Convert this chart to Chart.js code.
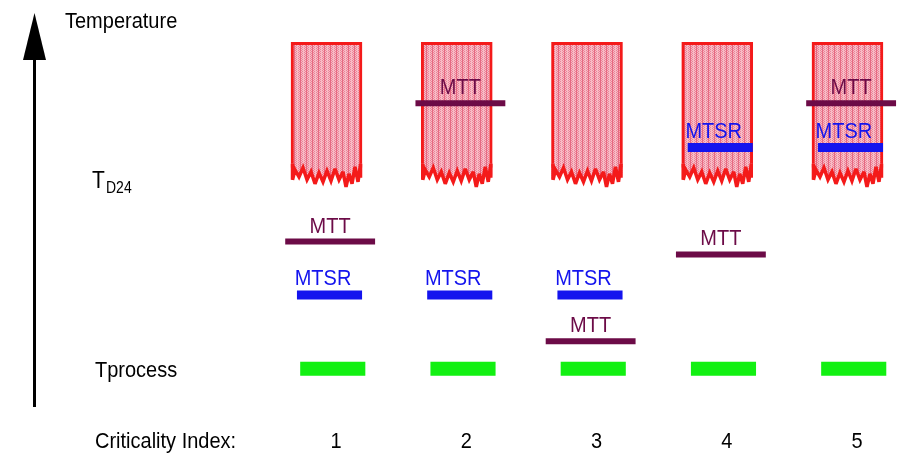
<!DOCTYPE html>
<html>
<head>
<meta charset="utf-8">
<script src="https://cdn.jsdelivr.net/npm/chart.js@4.4.1/dist/chart.umd.min.js"></script>
<style>
  html, body { margin: 0; padding: 0; background: #fff; }
  #chart { display: block; }
</style>
</head>
<body>
<canvas id="chart" width="901" height="461"></canvas>
<script>
// categories = Criticality Index, values on an arbitrary temperature scale
const categories = [1, 2, 3, 4, 5];
const tickLabels = ['1', '2', '3', '4', '5'];
const decompTop = [227, 227, 227, 227, 227];
const decompBase = [159, 159, 159, 159, 159];
const mttValues = [119, 194, 65, 112, 194];
const mtsrValues = [90, 90, 90, 170, 170];
const processValues = [50, 50, 50, 50, 50];
const tD24 = 150;
const tProcess = 50;

const FONT = '"Liberation Sans", Arial, sans-serif';
const MTT_COLOR = '#6c0b47';
const MTSR_COLOR = '#1414ee';
const RED = '#f41a1a';

/*
* stippled pink fill for the decomposition boxes
*/
function makePattern() {
  const c = document.createElement('canvas');
  c.width = 6; c.height = 2;
  const g = c.getContext('2d');
  g.fillStyle = '#f7bcc6';
  g.fillRect(0, 0, 6, 2);
  g.fillStyle = '#ec8398';
  g.fillRect(1, 0, 1, 1); g.fillRect(2, 1, 1, 1); g.fillRect(4, 0, 1, 1); g.fillRect(5, 1, 1, 1);
  g.fillStyle = '#e66a82';
  g.fillRect(0, 0, 1, 2);
  return g.createPattern(c, 'repeat');
}
const pattern = makePattern();

// builds short horizontal segments, one per category, broken by gaps
function segments(values, from, to) {
  const pts = [];
  categories.forEach((c, i) => {
    pts.push({x: c + from, y: values[i]});
    pts.push({x: c + to, y: values[i]});
    pts.push({x: c + to + 0.01, y: null});
  });
  return pts;
}

// zig-zag bottom edge of the boxes (px offsets on a 71px wide box)
const jag = [[0,12],[4,2],[8,9],[12,0],[16,12],[20,4],[24,16],[28,5],[32,14],[36,3],[40,13],[44,1],[48,12],[52,4],[55,19],[58,6],[61,16],[64,-1],[67,14],[70,-3],[71,10]];

const jaggedBottom = {
  id: 'jaggedBottom',
  afterDatasetDraw(chart, args) {
    if (args.meta.type !== 'bar') return;
    const ctx = chart.ctx;
    args.meta.data.forEach(el => {
      const p = el.getProps(['x', 'base', 'width'], true);
      const left = p.x - p.width / 2;
      const k = p.width / 71;
      ctx.save();
      ctx.beginPath();
      ctx.moveTo(left, p.base - 4);
      jag.forEach(j => ctx.lineTo(left + j[0] * k, p.base + j[1]));
      ctx.lineTo(left + p.width, p.base - 4);
      ctx.closePath();
      ctx.fillStyle = pattern;
      ctx.fill();
      ctx.beginPath();
      ctx.moveTo(left + 1.5, p.base - 4);
      jag.forEach(j => ctx.lineTo(Math.min(Math.max(left + j[0] * k, left + 1.5), left + p.width - 1.5), p.base + j[1]));
      ctx.lineTo(left + p.width - 1.5, p.base - 4);
      ctx.strokeStyle = RED;
      ctx.lineWidth = 3.5;
      ctx.lineJoin = 'miter';
      ctx.miterLimit = 3;
      ctx.stroke();
      ctx.restore();
    });
  }
};

// text drawn a bit taller than wide, like the reference
function tallText(ctx, txt, x, y, size, color, align) {
  ctx.save();
  ctx.font = size + 'px ' + FONT;
  ctx.fillStyle = color;
  ctx.textAlign = align || 'left';
  ctx.textBaseline = 'alphabetic';
  ctx.translate(x, y);
  ctx.scale(1, 1.12);
  ctx.fillText(txt, 0, 0);
  ctx.restore();
}

const labels = {
  id: 'labels',
  afterDraw(chart) {
    const ctx = chart.ctx;
    const xs = chart.scales.x, ys = chart.scales.y;

    // axis arrow
    ctx.save();
    ctx.strokeStyle = '#000';
    ctx.lineWidth = 3;
    ctx.beginPath();
    ctx.moveTo(34.5, 55);
    ctx.lineTo(34.5, 407);
    ctx.stroke();
    ctx.fillStyle = '#000';
    ctx.beginPath();
    ctx.moveTo(34.5, 13);
    ctx.lineTo(46, 60);
    ctx.lineTo(23, 60);
    ctx.closePath();
    ctx.fill();
    ctx.restore();

    tallText(ctx, 'Temperature', 65, 28, 20, '#000');

    const yd = ys.getPixelForValue(tD24);
    tallText(ctx, 'T', 92, yd + 4, 21, '#000');
    tallText(ctx, 'D24', 106, yd + 9, 14, '#000');

    tallText(ctx, 'Tprocess', 95, ys.getPixelForValue(tProcess) + 8, 20, '#000');

    tallText(ctx, 'Criticality Index:', 95, 448, 20, '#000');
    categories.forEach((c, i) => {
      tallText(ctx, tickLabels[i], xs.getPixelForValue(c), 448, 20, '#000', 'center');
    });

    // MTT / MTSR labels above their bars
    categories.forEach((c, i) => {
      tallText(ctx, 'MTT', xs.getPixelForValue(c - 0.045), ys.getPixelForValue(mttValues[i]) - 9, 20, MTT_COLOR, 'center');
      tallText(ctx, 'MTSR', xs.getPixelForValue(c - 0.1), ys.getPixelForValue(mtsrValues[i]) - 10, 20, MTSR_COLOR, 'center');
    });
  }
};

const segStyle = {
  type: 'line',
  pointRadius: 0,
  borderCapStyle: 'butt',
  spanGaps: false,
  tension: 0
};

new Chart(document.getElementById('chart'), {
  type: 'line',
  data: {
    datasets: [
      Object.assign({}, segStyle, {
        label: 'MTT',
        data: segments(mttValues, -0.39, 0.30),
        borderColor: MTT_COLOR,
        borderWidth: 6,
        order: 1
      }),
      Object.assign({}, segStyle, {
        label: 'MTSR',
        data: segments(mtsrValues, -0.3, 0.2),
        borderColor: MTSR_COLOR,
        borderWidth: 9,
        order: 2
      }),
      Object.assign({}, segStyle, {
        label: 'Tprocess',
        data: segments(processValues, -0.275, 0.225),
        borderColor: '#12f012',
        borderWidth: 14,
        order: 3
      }),
      {
        type: 'bar',
        label: 'Decomposition',
        data: categories.map((c, i) => ({x: c - 0.073, y: [decompBase[i], decompTop[i]]})),
        barThickness: 71,
        backgroundColor: pattern,
        borderColor: RED,
        borderWidth: 3,
        borderSkipped: 'bottom',
        order: 5
      }
    ]
  },
  options: {
    responsive: false,
    animation: false,
    devicePixelRatio: 1,
    layout: { padding: 0 },
    plugins: { legend: { display: false }, tooltip: { enabled: false } },
    scales: {
      x: { type: 'linear', min: -1.58, max: 5.338, offset: false, display: false },
      y: { type: 'linear', min: 0, max: 250, display: false }
    }
  },
  plugins: [jaggedBottom, labels]
});
</script>
</body>
</html>
